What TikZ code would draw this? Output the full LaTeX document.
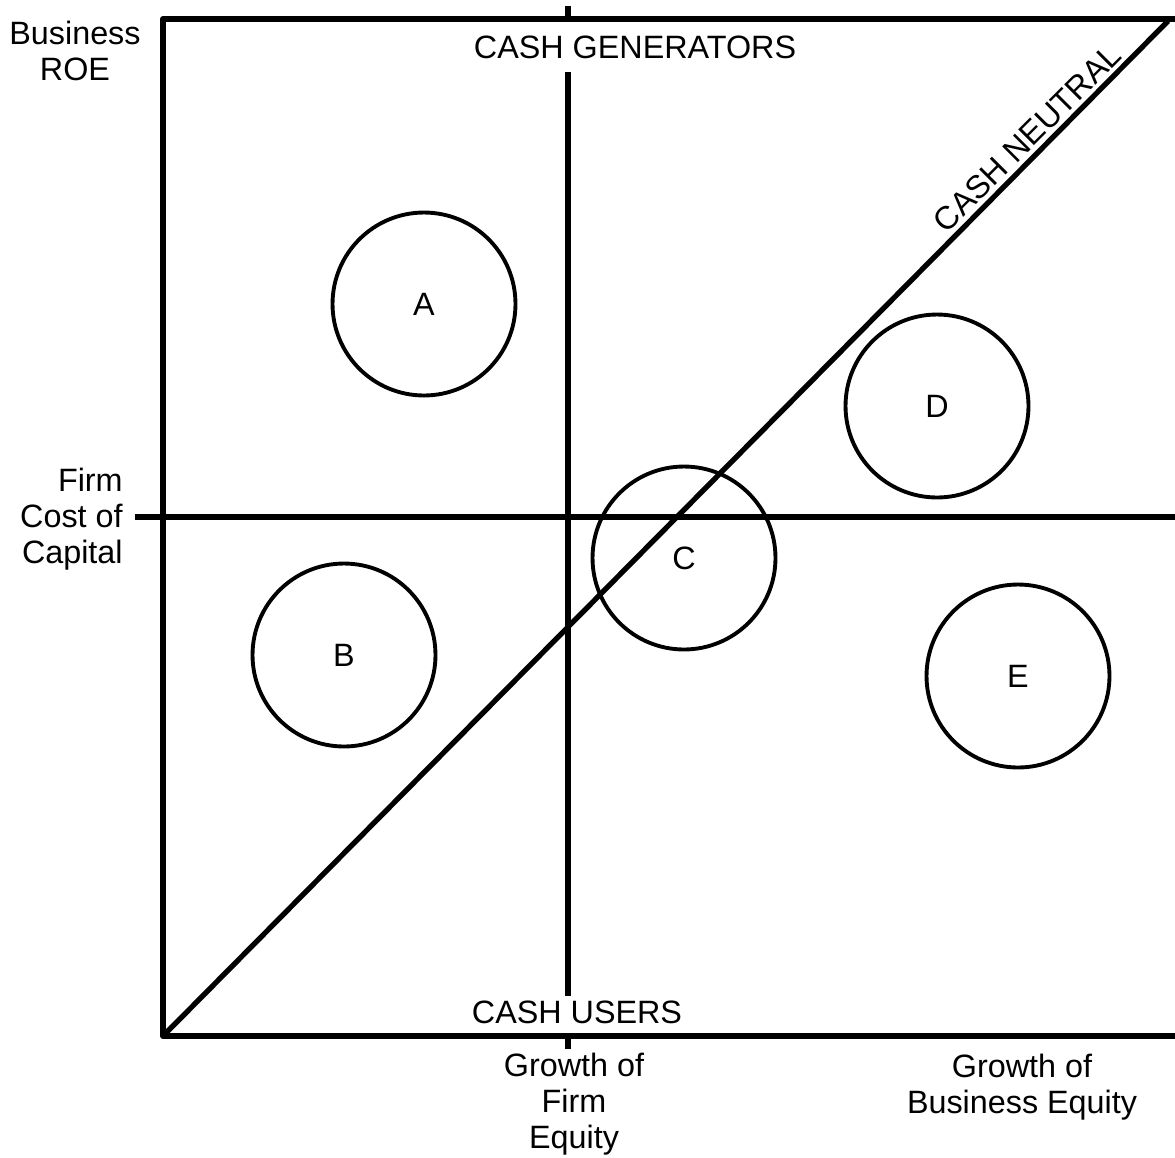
\documentclass[tikz,border=0pt]{standalone}
\usepackage{fontspec}
\setmainfont{Liberation Sans}
\begin{document}
\begin{tikzpicture}[x=0.02cm,y=-0.02cm,
  heavy/.style={line width=3.4pt},
  diag/.style={line width=3.0pt},
  bubble/.style={circle,draw,line width=2.2pt,minimum size=3.66cm,inner sep=0pt,font=\fontsize{18.4}{21}\selectfont},
  lbl/.style={inner sep=0pt,font=\fontsize{18.4}{20.5}\selectfont,align=center},
  lblr/.style={inner sep=0pt,font=\fontsize{18.4}{20.5}\selectfont,align=right}]
\useasboundingbox (0,0) rectangle (1175,1157);
% frame corners
\coordinate (tl) at (163,19);
\coordinate (bl) at (163,1036);
\coordinate (tr) at (1175,19);
\coordinate (br) at (1175,1036);
\coordinate (diagend) at (1168,21);
% axes marks
\coordinate (vtop0) at (568,6);
\coordinate (vtop1) at (568,19);
\coordinate (vin0) at (568,72);
\coordinate (vin1) at (568,996);
\coordinate (vbot0) at (568,1036);
\coordinate (vbot1) at (568,1049);
\coordinate (hl) at (135,517);
\coordinate (hr) at (1175,517);
\draw[heavy,line join=round] (tr) -- (tl) -- (bl) -- (br);
\draw[heavy] (vtop0) -- (vtop1);
\draw[heavy] (vin0) -- (vin1);
\draw[heavy] (vbot0) -- (vbot1);
\draw[heavy] (hl) -- (hr);
\draw[diag] (bl) -- (diagend);
% circles
\node[bubble] (A) at (424,304) {A};
\node[bubble] (B) at (344,655) {B};
\node[bubble] (C) at (684,558) {C};
\node[bubble] (D) at (937,406) {D};
\node[bubble] (E) at (1018,676) {E};
% labels
\node[lbl] (roe) at (75,51) {Business\\ROE};
\node[lbl] (gen) at (635,47) {CASH GENERATORS};
\node[lbl,rotate=45] (neutral) at (1027,138) {CASH NEUTRAL};
\node[lblr,anchor=east] (coc) at (123,519) {Firm\\Cost of\\Capital};
\node[lbl] (users) at (577,1012) {CASH USERS};
\node[lbl] (gfe) at (574,1104) {Growth of\\Firm\\Equity};
\node[lbl] (gbe) at (1022,1087) {Growth of\\Business Equity};
\end{tikzpicture}
\end{document}
